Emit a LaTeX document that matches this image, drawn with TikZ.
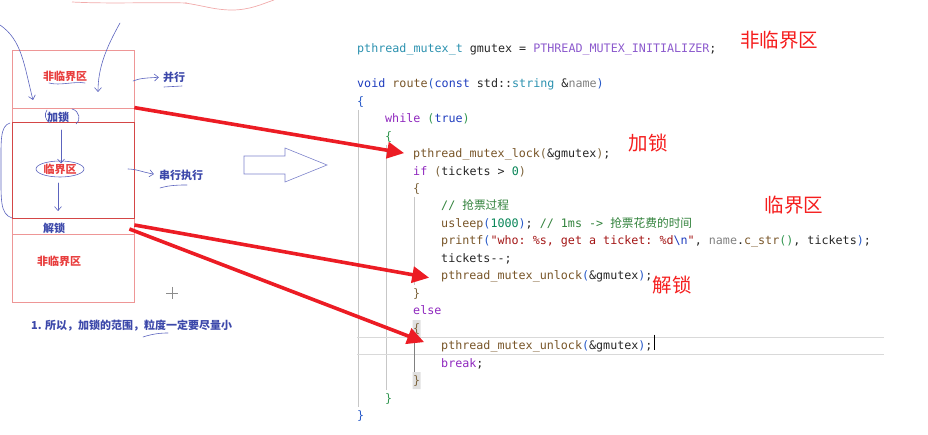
\documentclass[tikz,border=0pt]{standalone}
\usepackage{fontspec}
\setmonofont{DejaVu Sans Mono}
\newfontfamily\cjk{Noto Sans CJK SC}
\usetikzlibrary{arrows.meta,positioning,calc}
\definecolor{boxred}{RGB}{238,150,150}
\definecolor{csred}{RGB}{212,70,70}
\definecolor{labred}{RGB}{232,62,62}
\definecolor{penblue}{RGB}{92,100,190}
\definecolor{inkblue}{RGB}{60,72,170}
\definecolor{arrred}{RGB}{236,28,36}
\definecolor{notered}{RGB}{245,30,30}
\definecolor{ctype}{RGB}{43,145,175}
\definecolor{cmacro}{RGB}{140,90,205}
\definecolor{ckey}{RGB}{30,60,190}
\definecolor{cctl}{RGB}{143,40,190}
\definecolor{cfunc}{RGB}{120,85,40}
\definecolor{cparam}{RGB}{128,128,128}
\definecolor{ccom}{RGB}{50,130,60}
\definecolor{cstr}{RGB}{163,21,21}
\definecolor{cnum}{RGB}{9,134,88}
\definecolor{cbrA}{RGB}{40,90,200}
\definecolor{cbrB}{RGB}{50,150,80}
\definecolor{cbrC}{RGB}{125,100,60}

\begin{document}
\begin{tikzpicture}[x=1pt, y=-1pt,
  code/.style={font=\fontsize{11.7}{14}\selectfont\ttfamily, text=black!85, inner sep=0pt, anchor=base west},
  sec/.style={draw=boxred, line width=0.8pt, minimum width=122pt, inner sep=0pt},
  boxlab/.style={font=\fontsize{11}{13}\selectfont\cjk\bfseries, inner sep=0pt},
  note/.style={font=\fontsize{19.5}{22}\selectfont\cjk, text=notered, inner sep=0pt},
  hand/.style={penblue, line width=0.6pt, line cap=round},
  barb/.style={-{Straight Barb[length=4pt,width=7pt]}},
  redarr/.style={arrred, line width=3.6pt, -{Triangle[length=17pt,width=16pt]}},
  guide/.style={black!22, line width=0.6pt}]
  \useasboundingbox (0,0) rectangle (928,435);
  % Colonne de gauche
  \node[sec, minimum height=58pt]  (top)      at (73,79)  {};
  \node[sec, minimum height=14pt]  (lockrow)  at (73,115) {};
  \node[sec, minimum height=68pt]  (bottom)   at (73,268) {};
  \node[sec, minimum height=16pt]  (unlockrow) at (73,226) {};
  \node[sec, draw=csred, minimum height=96pt] (crit) at (73,170) {};
  \node[boxlab, text=labred]  (ncs1)   at (65,76)  {非临界区};
  \node[boxlab, text=inkblue] (lock)   at (58,117) {加锁};
  \node[boxlab, text=labred]  (cs)     at (60,169) {临界区};
  \node[boxlab, text=inkblue] (unlock) at (54,228) {解锁};
  \node[boxlab, text=labred]  (ncs2)   at (59,261) {非临界区};
  \node[boxlab, text=inkblue] (par)    at (174,77) {并行};
  \node[boxlab, text=inkblue] (ser)    at (181,175) {串行执行};
  \node[boxlab, text=inkblue, anchor=west] (tip) at (31,326) {1. 所以，加锁的范围，粒度一定要尽量小};
  % Annotations manuscrites
  \draw[hand, barb] (0,25) .. controls (22,40) and (24,65) .. (33,100);
  \draw[hand, barb] (120,23) .. controls (106,48) and (98,68) .. (98,92);
  \draw[hand, barb, shorten >=4pt] (133,81) .. controls (140,78) and (148,78) .. (par.west);
  \draw[hand] (49,83) .. controls (60,86) and (75,81) .. (85,83);
  \draw[hand] (164,87) -- (182,86);
  \draw[hand] (47,110) .. controls (44,114) and (45,120) .. (50,123);
  \draw[hand] (72,109) .. controls (80,111) and (81,121) .. (76,124);
  \draw[hand, barb] (61,130) -- (cs.north -| 61,0);
  \draw[hand] (cs) ellipse (24pt and 8pt);
  \draw[hand, barb] (58,183) -- (58,211);
  \draw[hand] (10,123) .. controls (0,126) and (1,140) .. (1,170)
    .. controls (1,200) and (0,214) .. (12,218);
  \draw[hand, barb, shorten >=5pt] (128,169) .. controls (136,169) and (142,172) .. (ser.west);
  \draw[hand] (160,188) .. controls (170,185) and (180,185) .. (187,185);
  \draw[hand] (143,337) .. controls (152,334) and (160,333) .. (168,333);
  \draw[boxred!80, line width=0.7pt] (72,2) .. controls (110,4) and (150,2) .. (187,3);
  \draw[boxred!80, line width=0.7pt] (185,3) .. controls (205,6) and (215,10) .. (232,10)
    .. controls (250,10) and (262,4) .. (274,0);
  \draw[black!45, line width=0.6pt] (166,293) -- (178,293) (172,287) -- (172,299);
  % Grosse flèche creuse
  \draw[penblue!80, line width=0.6pt] (244,156) -- (285,156) -- (285,148) -- (327,165)
    -- (285,182) -- (285,174) -- (244,174) -- cycle;
  % Lignes de guidage et surlignage
  \draw[guide] (358.5,110) -- (358.5,407);
  \draw[guide] (386.5,145) -- (386.5,390);
  \draw[guide] (414.5,197) -- (414.5,285);
  \draw[black!15, line width=0.6pt] (357,337.5) -- (884,337.5) (357,354.5) -- (884,354.5);
  \fill[black!12] (412.5,320) rectangle (420.5,337) (412.5,372) rectangle (420.5,389);
  \draw[black!50, line width=0.6pt] (414.5,337) -- (414.5,372);
  % Code
  \node[code] (l0)  at (357,53)    {\textcolor{ctype}{pthread\_mutex\_t} gmutex = \textcolor{cmacro}{PTHREAD\_MUTEX\_INITIALIZER};};
  \node[code] (l2)  at (357,88)    {\textcolor{ckey}{void} \textcolor{cfunc}{route}\textcolor{cbrA}{(}\textcolor{ckey}{const} std::\textcolor{ctype}{string} \&\textcolor{cparam}{name}\textcolor{cbrA}{)}};
  \node[code] (l3)  at (357,105.4) {\textcolor{cbrA}{\{}};
  \node[code] (l4)  at (385,122.8) {\textcolor{cctl}{while} \textcolor{cbrB}{(}\textcolor{ckey}{true}\textcolor{cbrB}{)}};
  \node[code] (l5)  at (385,140.3) {\textcolor{cbrB}{\{}};
  \node[code] (l6)  at (413,157.7) {\textcolor{cfunc}{pthread\_mutex\_lock}\textcolor{cbrC}{(}\&gmutex\textcolor{cbrC}{)};};
  \node[code] (l7)  at (413,175.2) {\textcolor{cctl}{if} \textcolor{cbrC}{(}tickets > \textcolor{cnum}{0}\textcolor{cbrC}{)}};
  \node[code] (l8)  at (413,192.6) {\textcolor{cbrC}{\{}};
  \node[code] (l9)  at (441,210)   {\textcolor{ccom}{// {\cjk 抢票过程}}};
  \node[code] (l10) at (441,227.5) {\textcolor{cfunc}{usleep}\textcolor{cbrA}{(}\textcolor{cnum}{1000}\textcolor{cbrA}{)}; \textcolor{ccom}{// 1ms -> {\cjk 抢票花费的时间}}};
  \node[code] (l11) at (441,245)   {\textcolor{cfunc}{printf}\textcolor{cbrA}{(}\textcolor{cstr}{"who: \%s, get a ticket: \%d}\textcolor{ckey}{\textbackslash n}\textcolor{cstr}{"}, \textcolor{cparam}{name}.\textcolor{cfunc}{c\_str}\textcolor{cbrB}{()}, tickets\textcolor{cbrA}{)};};
  \node[code] (l12) at (441,262.4) {tickets-{}-;};
  \node[code] (l13) at (441,279.9) {\textcolor{cfunc}{pthread\_mutex\_unlock}\textcolor{cbrA}{(}\&gmutex\textcolor{cbrA}{)};};
  \node[code] (l14) at (413,297.3) {\textcolor{cbrC}{\}}};
  \node[code] (l15) at (413,314.8) {\textcolor{cctl}{else}};
  \node[code] (l16) at (413,332.2) {\textcolor{cbrC}{\{}};
  \node[code] (l17) at (441,349.7) {\textcolor{cfunc}{pthread\_mutex\_unlock}\textcolor{cbrA}{(}\&gmutex\textcolor{cbrA}{)};};
  \node[code] (l18) at (441,367.1) {\textcolor{cctl}{break};};
  \node[code] (l19) at (413,384.6) {\textcolor{cbrC}{\}}};
  \node[code] (l20) at (385,402)   {\textcolor{cbrB}{\}}};
  \node[code] (l21) at (357,419.5) {\textcolor{cbrA}{\}}};
  \draw[black, line width=1pt] (l17.east) ++(1.5,-12) -- ++(0,15);
  % Repères rouges
  \node[note] (nncs) at (779,40)  {非临界区};
  \node[note] (nlock) at (648,143) {加锁};
  \node[note] (ncs) at (794,205)  {临界区};
  \node[note] (nunl) at (672,285) {解锁};
  % Flèches rouges
  \draw[redarr, shorten >=9pt] (lockrow.north east) -- (l6.west);
  \draw[redarr, shorten >=12pt] ([yshift=1pt]unlockrow.east) -- ([yshift=-3pt]l13.west);
  \draw[redarr, shorten >=18pt] ([xshift=-5pt,yshift=-3pt]unlockrow.east) -- ([yshift=-2pt]l17.west);
\end{tikzpicture}
\end{document}
